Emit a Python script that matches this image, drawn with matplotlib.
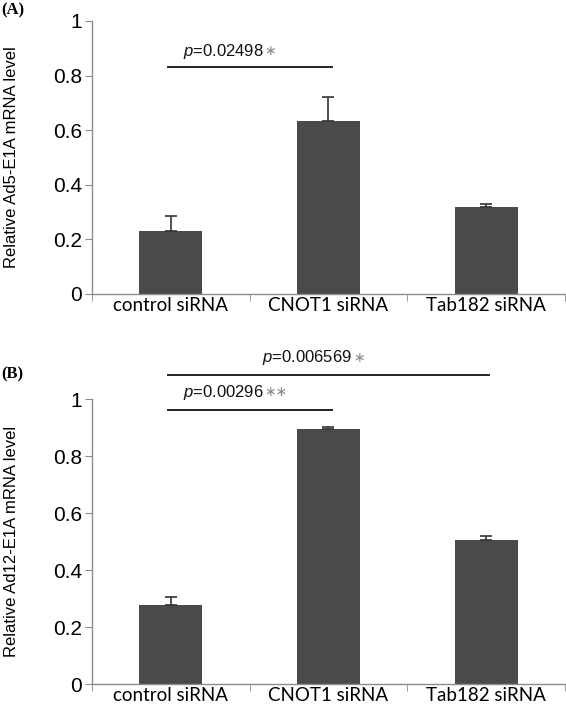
"""Relative E1A mRNA levels after siRNA knockdown (two panels)"""
import matplotlib
matplotlib.use("Agg")
import matplotlib.pyplot as plt
from matplotlib.offsetbox import TextArea, HPacker, AnnotationBbox

plt.rcParams['font.family'] = ['Liberation Sans', 'DejaVu Sans']
plt.rcParams['mathtext.fontset'] = 'custom'
plt.rcParams['mathtext.it'] = 'Liberation Sans:italic'
plt.rcParams['mathtext.rm'] = 'Liberation Sans'

categories = ["control siRNA", "CNOT1 siRNA", "Tab182 siRNA"]

# panel A: Ad5-E1A
ad5_mean = [0.23, 0.634, 0.317]
ad5_err = [0.056, 0.086, 0.014]

# panel B: Ad12-E1A
ad12_mean = [0.278, 0.895, 0.505]
ad12_err = [0.026, 0.008, 0.013]

# significance brackets: (from, to, line height, label, stars)
ad5_sig = [(0, 1, 0.83, "0.02498", "\u2217")]
ad12_sig = [(0, 2, 1.085, "0.006569 ", "\u2217"),
            (0, 1, 0.963, "0.00296", "\u2217\u2217")]

BAR = "#4a4a4a"
AXC = "#8c8c8c"


def draw_panel(ax, means, errs, sigs, ylabel):
    x = range(len(categories))
    ax.bar(x, means, width=0.4, color=BAR, zorder=2)
    ax.errorbar(x, means, yerr=[[0] * len(errs), errs], fmt="none",
                ecolor="#333333", elinewidth=1.2, capsize=4, capthick=1.2, zorder=3)
    ax.set_xlim(-0.5, len(categories) - 0.5)
    ax.set_ylim(0, 1)
    ax.set_yticks([0, 0.2, 0.4, 0.6, 0.8, 1])
    ax.set_yticklabels(["0", "0.2", "0.4", "0.6", "0.8", "1"])
    ax.set_xticks(list(x))
    ax.set_xticklabels(categories, family="Lato", fontsize=13.5)
    ax.set_xticks([i - 0.5 for i in range(len(categories) + 1)], minor=True)
    ax.tick_params(axis="x", which="major", length=0, pad=2)
    ax.tick_params(axis="x", which="minor", length=5, color=AXC, direction="out")
    ax.tick_params(axis="y", length=5, color=AXC, labelsize=15, pad=2)
    for s in ["top", "right"]:
        ax.spines[s].set_visible(False)
    for s in ["left", "bottom"]:
        ax.spines[s].set_color(AXC)
        ax.spines[s].set_linewidth(1.0)
    ax.set_ylabel(ylabel, fontsize=12)
    ax.yaxis.set_label_coords(-0.155, 0.5)

    for x0, x1, h, pval, stars in sigs:
        ax.plot([x0 - 0.02, x1 + 0.02], [h, h], color="#222222", lw=1.4,
                clip_on=False, zorder=4)
        parts = [TextArea("$p$=" + pval, textprops=dict(fontsize=12, color="#111111")),
                 TextArea(stars, textprops=dict(fontsize=10, color="#888888",
                                                family="DejaVu Sans"))]
        box = HPacker(children=parts, align="center", pad=0, sep=0)
        xt = 0.08 if x1 == 1 else 0.58
        ab = AnnotationBbox(box, (xt, h + 0.06), box_alignment=(0, 0.5),
                            frameon=False, pad=0, annotation_clip=False,
                            xycoords="data")
        ax.add_artist(ab)


fig = plt.figure(figsize=(5.66, 7.07), dpi=100)
ax_a = fig.add_axes([0.1625, 0.5842, 0.8355, 0.3861])
ax_b = fig.add_axes([0.1625, 0.0325, 0.8355, 0.4031])

draw_panel(ax_a, ad5_mean, ad5_err, ad5_sig, "Relative Ad5-E1A mRNA level")
draw_panel(ax_b, ad12_mean, ad12_err, ad12_sig, "Relative Ad12-E1A mRNA level")

fig.text(0.002, 0.986, "(A)", family="Liberation Serif", fontweight="bold",
         fontsize=12, va="center", ha="left")
fig.text(0.002, 0.471, "(B)", family="Liberation Serif", fontweight="bold",
         fontsize=12, va="center", ha="left")

fig.savefig("out.png", dpi=100)
